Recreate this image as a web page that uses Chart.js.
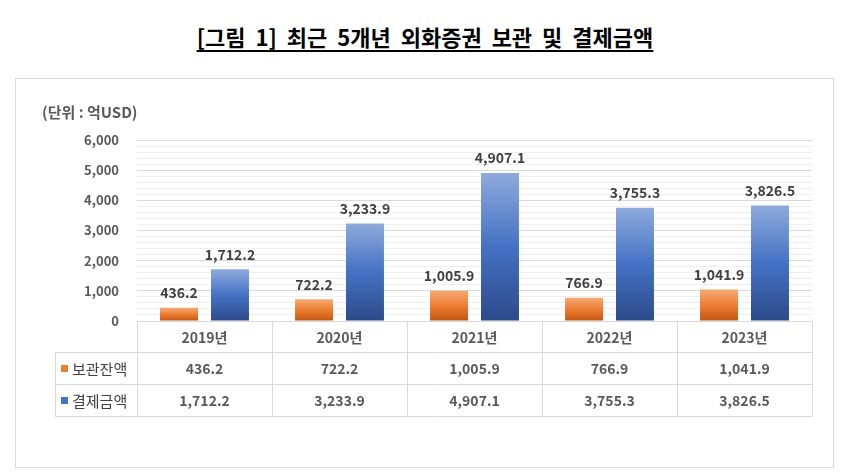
<!DOCTYPE html>
<html><head><meta charset="utf-8">
<script src="https://cdn.jsdelivr.net/npm/chart.js@4.4.0/dist/chart.umd.min.js"></script>
<style>
html,body{margin:0;padding:0;background:#fff;}
#wrap{position:relative;width:850px;height:476px;overflow:hidden;}
#panel{position:absolute;left:15px;top:78px;width:817px;height:388px;border:1px solid #d9d9d9;}
#title{position:absolute;left:0;top:21px;width:850px;text-align:center;font-family:"Noto Sans CJK KR";font-weight:bold;font-size:22px;line-height:30px;color:#000;word-spacing:5px;}
#title span{text-decoration:underline;text-underline-offset:4px;text-decoration-thickness:2px;}
#c{position:absolute;left:0;top:0;}
</style>
</head><body>
<div id="wrap">
<div id="panel"></div>
<div id="title"><span>[그림 1] 최근 5개년 외화증권 보관 및 결제금액</span></div>
<canvas id="c" width="850" height="476"></canvas>
</div>
<script>
const categories = ['2019년','2020년','2021년','2022년','2023년'];
const seriesNames = ['보관잔액','결제금액'];
const custodyValues = [436.2, 722.2, 1005.9, 766.9, 1041.9];
const settlementValues = [1712.2, 3233.9, 4907.1, 3755.3, 3826.5];
const unitLabel = '(단위 : 억USD)';
const yMin = 0, yMax = 6000, yStep = 200, yLabelStep = 1000;

const FONT = '"Noto Sans CJK KR", "Noto Sans", sans-serif';
const orangeStops = [[0,'#f4aa74'],[0.5,'#ed7d31'],[1,'#c25510']];
const blueStops = [[0,'#8eaadc'],[0.5,'#4472c4'],[1,'#2c4a8a']];
const fmt = v => v.toLocaleString('en-US',{minimumFractionDigits:1,maximumFractionDigits:1});

function grad(stops){
  return (ctx) => {
    const ch = ctx.chart, ys = ch.scales && ch.scales.y;
    if (!ys || ctx.raw == null) return stops[1][1];
    const top = ys.getPixelForValue(ctx.raw), bot = ys.getPixelForValue(0);
    if (!isFinite(top) || !isFinite(bot) || top === bot) return stops[1][1];
    const g = ch.ctx.createLinearGradient(0, top, 0, bot);
    stops.forEach(s => g.addColorStop(s[0], s[1]));
    return g;
  };
}

const tablePlugin = {
  id: 'tablePlugin',
  afterDatasetsDraw(chart){
    const c = chart.ctx;
    c.save();
    c.font = 'bold 14px ' + FONT;
    c.fillStyle = '#404040';
    c.textAlign = 'center';
    c.textBaseline = 'bottom';
    chart.data.datasets.forEach((ds, di) => {
      chart.getDatasetMeta(di).data.forEach((el, i) => {
        c.fillText(fmt(ds.data[i]), el.x, el.y - 8);
      });
    });
    c.restore();
  },
  afterDraw(chart){
    const c = chart.ctx, ca = chart.chartArea, xs = chart.scales.x;
    const left = ca.left, right = ca.right, top = ca.bottom;
    const rows = [top, top + 31, top + 63, top + 95];
    const legLeft = 55;
    const n = categories.length;
    const w = (right - left) / n;
    c.save();
    // unit label
    c.font = 'bold 15px ' + FONT;
    c.fillStyle = '#595959';
    c.textAlign = 'left';
    c.textBaseline = 'middle';
    c.fillText(unitLabel, 42, 112);
    // grid
    c.strokeStyle = '#d9d9d9';
    c.lineWidth = 1;
    c.beginPath();
    c.moveTo(left, rows[0] + 0.5); c.lineTo(right, rows[0] + 0.5);
    for (let r = 1; r < rows.length; r++){
      c.moveTo(legLeft, rows[r] + 0.5); c.lineTo(right, rows[r] + 0.5);
    }
    for (let k = 0; k <= n; k++){
      const x = Math.round(left + k * w) + 0.5;
      c.moveTo(x, rows[0]); c.lineTo(x, rows[3]);
    }
    c.moveTo(legLeft + 0.5, rows[1]); c.lineTo(legLeft + 0.5, rows[3]);
    c.stroke();
    // header
    c.textAlign = 'center';
    c.fillStyle = '#595959';
    c.font = 'bold 14px ' + FONT;
    categories.forEach((cat, i) => {
      const x = xs.getPixelForValue(i);
      c.fillText(cat, x, (rows[0] + rows[1]) / 2 + 1);
    });
    const series = [custodyValues, settlementValues];
    const colors = ['#ed7d31', '#4472c4'];
    series.forEach((vals, r) => {
      const yc = (rows[r + 1] + rows[r + 2]) / 2 + 1;
      c.textAlign = 'center';
      c.fillStyle = '#595959';
      c.font = 'bold 14px ' + FONT;
      vals.forEach((v, i) => c.fillText(fmt(v), xs.getPixelForValue(i), yc));
      c.fillStyle = colors[r];
      c.fillRect(61, yc - 4, 7, 7);
      c.fillStyle = '#404040';
      c.textAlign = 'left';
      c.font = '15px ' + FONT;
      c.fillText(seriesNames[r], 72, yc);
    });
    c.restore();
  }
};

new Chart(document.getElementById('c'), {
  type: 'bar',
  data: {
    labels: categories,
    datasets: [
      { label: seriesNames[0], data: custodyValues, backgroundColor: grad(orangeStops), borderWidth: 0 },
      { label: seriesNames[1], data: settlementValues, backgroundColor: grad(blueStops), borderWidth: 0 }
    ]
  },
  options: {
    responsive: false,
    animation: false,
    devicePixelRatio: 1,
    layout: { padding: { top: 140, right: 38, bottom: 155, left: 0 } },
    datasets: { bar: { categoryPercentage: 0.755, barPercentage: 0.745 } },
    plugins: { legend: { display: false }, tooltip: { enabled: false }, title: { display: false } },
    scales: {
      x: { display: false },
      y: {
        min: yMin, max: yMax,
        afterFit: s => { s.width = 137; },
        border: { display: false },
        grid: {
          drawTicks: false,
          color: ctx => (ctx.tick && ctx.tick.value % yLabelStep === 0) ? '#d9d9d9' : '#efefef',
          lineWidth: 1
        },
        ticks: {
          stepSize: yStep,
          autoSkip: false,
          padding: 18,
          color: '#595959',
          font: { family: FONT, size: 13, weight: 'bold' },
          callback: v => (v % yLabelStep === 0) ? v.toLocaleString('en-US') : ''
        }
      }
    }
  },
  plugins: [tablePlugin]
});
</script>
</body></html>
